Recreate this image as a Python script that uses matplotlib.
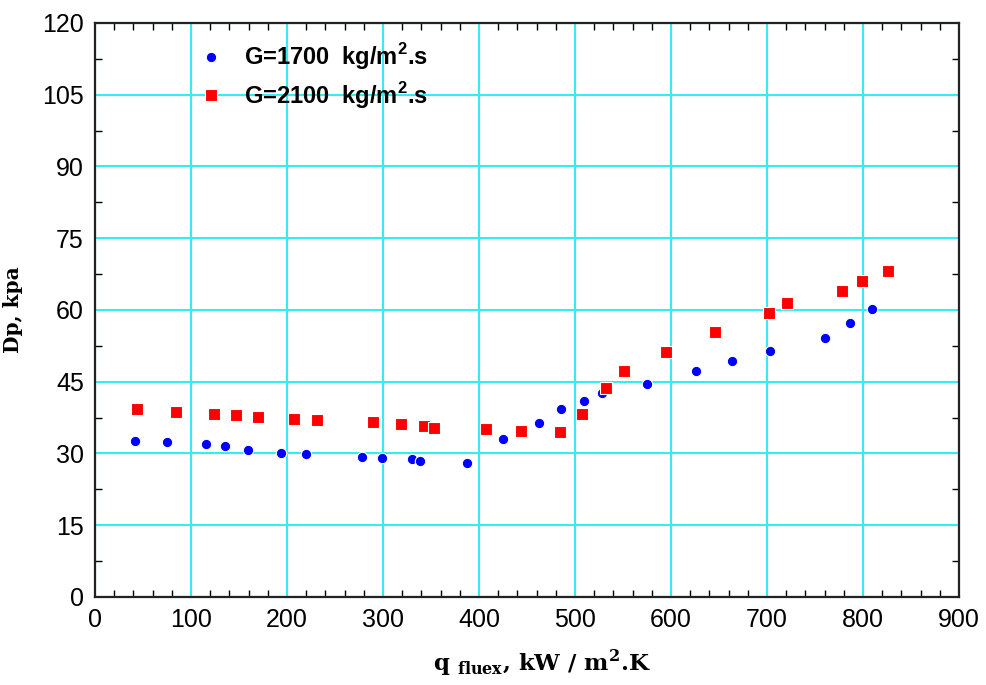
import numpy as np
import matplotlib.pyplot as plt
from matplotlib.ticker import MultipleLocator

# G = 1700 kg/m2.s
q_1700 = [41.7, 75.3, 115.6, 135.7, 159.7, 194.1, 219.8, 277.8, 299.3, 330.5,
          338.5, 387.2, 425.3, 462.2, 485.8, 509.0, 527.8, 575.3, 626.0, 663.2,
          703.5, 760.4, 786.5, 809.4]
dp_1700 = [32.6, 32.3, 32.0, 31.6, 30.8, 30.2, 29.9, 29.3, 29.1, 28.9,
           28.4, 28.1, 33.1, 36.4, 39.3, 41.0, 42.6, 44.5, 47.3, 49.4,
           51.4, 54.2, 57.2, 60.1]

# G = 2100 kg/m2.s
q_2100 = [44.1, 84.0, 124.3, 147.2, 169.8, 207.6, 231.6, 289.9, 318.4, 343.1,
          353.1, 407.0, 444.1, 484.7, 507.3, 532.0, 551.0, 595.1, 645.5, 702.4,
          721.2, 778.5, 799.0, 826.4]
dp_2100 = [39.4, 38.7, 38.3, 38.0, 37.6, 37.2, 36.9, 36.5, 36.1, 35.7,
           35.4, 35.1, 34.7, 34.4, 38.3, 43.6, 47.3, 51.2, 55.3, 59.3,
           61.5, 64.0, 66.1, 68.2]

plt.rcParams['font.family'] = ['Liberation Sans', 'DejaVu Sans']

fig = plt.figure(figsize=(9.86, 6.85), dpi=100)
ax = fig.add_axes([0.0963, 0.1285, 0.8763, 0.838])

ax.plot(q_1700, dp_1700, 'o', color='#0000ff', ms=7.5, mec='white', mew=0.8,
        label=r'G=1700  kg/m$^{\mathregular{2}}$.s', zorder=3)
ax.plot(q_2100, dp_2100, 's', color='#ff0000', ms=8.5, mec='white', mew=0.8,
        label=r'G=2100  kg/m$^{\mathregular{2}}$.s', zorder=3)

ax.set_xlim(0, 900)
ax.set_ylim(0, 120)
ax.set_xticks(np.arange(0, 901, 100))
ax.set_yticks(np.arange(0, 121, 15))
ax.xaxis.set_minor_locator(MultipleLocator(20))
ax.yaxis.set_minor_locator(MultipleLocator(7.5))
ax.tick_params(which='major', length=0, labelsize=18, pad=8)
ax.tick_params(which='minor', direction='in', length=5, width=1,
               top=True, right=True)
ax.grid(True, which='major', color='#33eeee', lw=1.5)
ax.set_axisbelow(True)
for s in ax.spines.values():
    s.set_linewidth(1.6)
    s.set_color('#222222')

ax.set_xlabel(r'q $_{\mathregular{fluex}}$, kW / m$^{\mathregular{2}}$.K',
              fontfamily='DejaVu Serif', fontweight='bold', fontsize=16.5)
ax.xaxis.set_label_coords(0.517, -0.087)
ax.set_ylabel('Dp, kpa', fontfamily='DejaVu Serif', fontweight='bold',
              fontsize=14.5, labelpad=14)

leg = ax.legend(loc='upper left', bbox_to_anchor=(0.088, 0.997), frameon=False,
                handletextpad=0.4, labelspacing=0.33, borderaxespad=0.3,
                prop={'weight': 'bold', 'size': 17})

plt.savefig('out.png', dpi=100)
